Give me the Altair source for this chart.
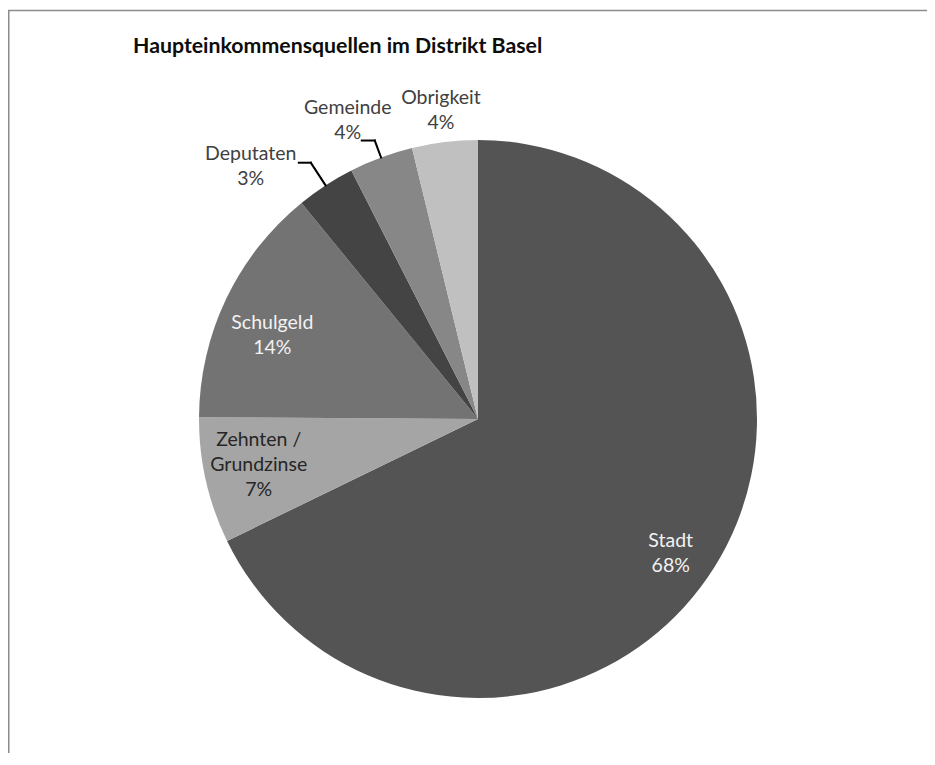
import altair as alt
import pandas as pd

# ---- data ----
categories = ["Stadt", "Zehnten / Grundzinse", "Schulgeld", "Deputaten", "Gemeinde", "Obrigkeit"]
shares = [67.8, 7.3, 14.0, 3.4, 3.7, 3.8]
slice_colors = ["#545454", "#a5a5a5", "#737373", "#444444", "#878787", "#c0c0c0"]
title_text = "Haupteinkommensquellen im Distrikt Basel"

df = pd.DataFrame({"cat": categories, "value": shares, "idx": list(range(len(categories)))})
df["label"] = [c.replace(" / ", " /\n") + "\n" + f"{round(v)}%" for c, v in zip(categories, shares)]

# ---- layout / style ----
W, H = 919, 745
CX, CY = 470, 411
R = 279
FONT = "Lato"
FS = 19.5
LH = 25

theta = alt.Theta("value:Q", stack=True)
order = alt.Order("idx:Q", sort="ascending")
base = alt.Chart(df)

pie = base.mark_arc(outerRadius=R).encode(
    theta=theta,
    order=order,
    color=alt.Color("cat:N", scale=alt.Scale(domain=categories, range=slice_colors), legend=None),
    x=alt.value(CX),
    y=alt.value(CY),
)


def label(cats, radius, color, theta_offset=0.0, n_lines=2):
    return base.mark_text(
        radius=radius, thetaOffset=theta_offset, font=FONT, fontSize=FS, lineHeight=LH,
        lineBreak="\n", align="center", baseline="middle", color=color,
        dy=-(n_lines - 1) * LH / 2,
    ).encode(
        theta=theta,
        order=order,
        text=alt.condition(alt.FieldOneOfPredicate(field="cat", oneOf=cats), alt.Text("label:N"), alt.value("")),
        x=alt.value(CX),
        y=alt.value(CY),
    )


def leader(cat, r_elbow, run):
    src = (
        base.transform_window(cum="sum(value)", sort=[alt.SortField("idx", order="ascending")], frame=[None, 0])
        .transform_joinaggregate(total="sum(value)")
        .transform_calculate(mid="(datum.cum - datum.value / 2) / datum.total * 2 * PI")
        .transform_filter(alt.datum.cat == cat)
        .transform_calculate(
            x1=f"{CX} + {R} * sin(datum.mid)",
            y1=f"{CY} - {R} * cos(datum.mid)",
            xe=f"{CX} + {r_elbow} * sin(datum.mid)",
            ye=f"{CY} - {r_elbow} * cos(datum.mid)",
            xh=f"{CX} + {r_elbow} * sin(datum.mid) - {run}",
        )
    )
    seg1 = src.mark_rule(color="#000000", strokeWidth=2, strokeCap="square").encode(
        x=alt.X("x1:Q", scale=None), y=alt.Y("y1:Q", scale=None), x2="xe:Q", y2="ye:Q"
    )
    seg2 = src.mark_rule(color="#000000", strokeWidth=2, strokeCap="square").encode(
        x=alt.X("xe:Q", scale=None), y=alt.Y("ye:Q", scale=None), x2="xh:Q"
    )
    return [seg1, seg2]


one = alt.Chart(pd.DataFrame({"t": [title_text]}))
title = one.mark_text(
    font=FONT, fontSize=21.3, fontWeight="bold", align="left", baseline="middle", color="#0d0d0d"
).encode(text="t:N", x=alt.value(125), y=alt.value(39))

frame_top = one.mark_rule(color="#8c8c8c", strokeWidth=1.5).encode(
    x=alt.value(0), x2=alt.value(W), y=alt.value(2.5)
)
frame_left = one.mark_rule(color="#8c8c8c", strokeWidth=1.5).encode(
    x=alt.value(0.75), y=alt.value(2), y2=alt.value(H)
)

layers = [
    frame_top,
    frame_left,
    pie,
    label(["Stadt"], 235, "#f2f2f2", 0.05),
    label(["Schulgeld"], 222, "#f2f2f2", -0.06),
    label(["Zehnten / Grundzinse"], 224, "#262626", 0.017, n_lines=3),
    label(["Obrigkeit"], 311, "#404040", 0.0),
    label(["Gemeinde"], 326, "#404040", -0.056),
    label(["Deputaten"], 340, "#404040", -0.154),
    title,
]
layers += leader("Deputaten", 306, 12)
layers += leader("Gemeinde", 297, 13)

chart = alt.layer(*layers).properties(
    width=W, height=H, autosize=alt.AutoSizeParams(type="none"), padding=0
).configure_view(stroke=None)

chart.save("out.html", embed_options={"renderer": "svg", "actions": False})
